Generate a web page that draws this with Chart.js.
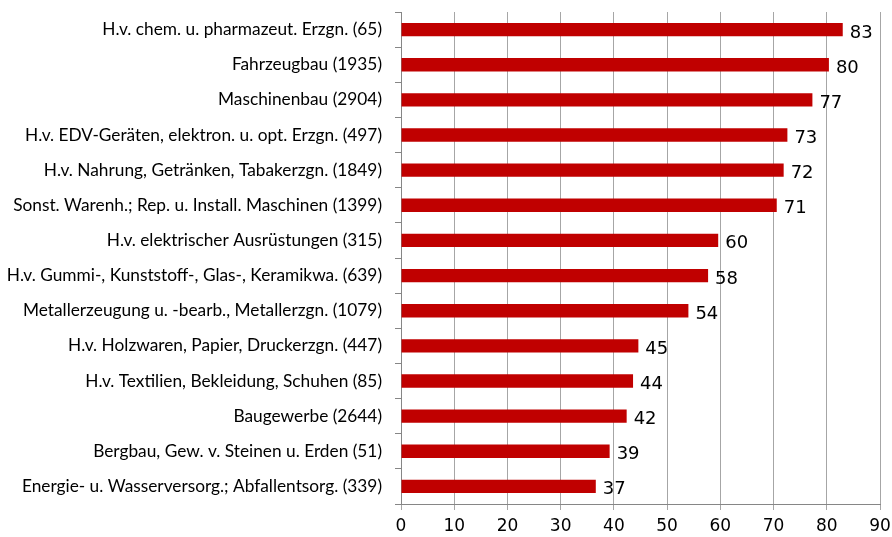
<!DOCTYPE html>
<html>
<head>
<meta charset="utf-8">
<script src="https://cdn.jsdelivr.net/npm/chart.js@4"></script>
<style>
html,body{margin:0;padding:0;background:#fff;}
#wrap{width:892px;height:537px;position:relative;}
</style>
</head>
<body>
<div id="wrap"><canvas id="c" width="892" height="537"></canvas></div>
<script>
const categories = [
  "H.v. chem. u. pharmazeut. Erzgn. (65)",
  "Fahrzeugbau (1935)",
  "Maschinenbau (2904)",
  "H.v. EDV-Geräten, elektron. u. opt. Erzgn. (497)",
  "H.v. Nahrung, Getränken, Tabakerzgn. (1849)",
  "Sonst. Warenh.; Rep. u. Install. Maschinen (1399)",
  "H.v. elektrischer Ausrüstungen (315)",
  "H.v. Gummi-, Kunststoff-, Glas-, Keramikwa. (639)",
  "Metallerzeugung u. -bearb., Metallerzgn. (1079)",
  "H.v. Holzwaren, Papier, Druckerzgn. (447)",
  "H.v. Textilien, Bekleidung, Schuhen (85)",
  "Baugewerbe (2644)",
  "Bergbau, Gew. v. Steinen u. Erden (51)",
  "Energie- u. Wasserversorg.; Abfallentsorg. (339)"
];
const values = [83.0, 80.4, 77.3, 72.6, 71.9, 70.6, 59.6, 57.7, 54.0, 44.6, 43.6, 42.4, 39.2, 36.6];
const valueLabels = ["83","80","77","73","72","71","60","58","54","45","44","42","39","37"];
const xTicks = [0,10,20,30,40,50,60,70,80,90];

const valueLabelPlugin = {
  id: 'valueLabels',
  afterDatasetsDraw(chart) {
    const ctx = chart.ctx;
    const meta = chart.getDatasetMeta(0);
    ctx.save();
    ctx.font = '18px "DejaVu Sans"';
    ctx.fillStyle = '#000';
    ctx.textAlign = 'left';
    ctx.textBaseline = 'alphabetic';
    meta.data.forEach((bar, i) => {
      ctx.fillText(valueLabels[i], bar.x + 7, bar.y + 8);
    });
    ctx.restore();
  }
};

new Chart(document.getElementById('c'), {
  type: 'bar',
  data: {
    labels: categories,
    datasets: [{
      data: values,
      backgroundColor: '#C00000',
      borderWidth: 0,
      barPercentage: 1.0,
      categoryPercentage: 0.38
    }]
  },
  options: {
    indexAxis: 'y',
    responsive: false,
    animation: false,
    events: [],
    layout: { padding: { left: 0, right: 12, top: 12, bottom: 0 } },
    plugins: { legend: { display: false }, tooltip: { enabled: false } },
    scales: {
      x: {
        min: 0, max: 90,
        afterBuildTicks(scale) { scale.ticks = xTicks.map(v => ({ value: v })); },
        afterFit(scale) { scale.height = 33; scale.paddingLeft = 0; scale.paddingRight = 0; },
        grid: { color: '#a6a6a6', lineWidth: 1, tickLength: 6, drawTicks: true },
        border: { color: '#868686', width: 1 },
        ticks: { color: '#000', font: { family: '"DejaVu Sans"', size: 17 }, padding: 6, maxRotation: 0 }
      },
      y: {
        afterFit(scale) { scale.width = 401; scale.paddingTop = 0; scale.paddingBottom = 0; },
        grid: { drawOnChartArea: false, drawTicks: true, tickLength: 6, offset: true, color: '#868686' },
        border: { color: '#868686', width: 1 },
        ticks: { color: '#000', font: { family: 'Lato', size: 17.3 }, padding: 13, autoSkip: false }
      }
    }
  },
  plugins: [valueLabelPlugin]
});
</script>
</body>
</html>
